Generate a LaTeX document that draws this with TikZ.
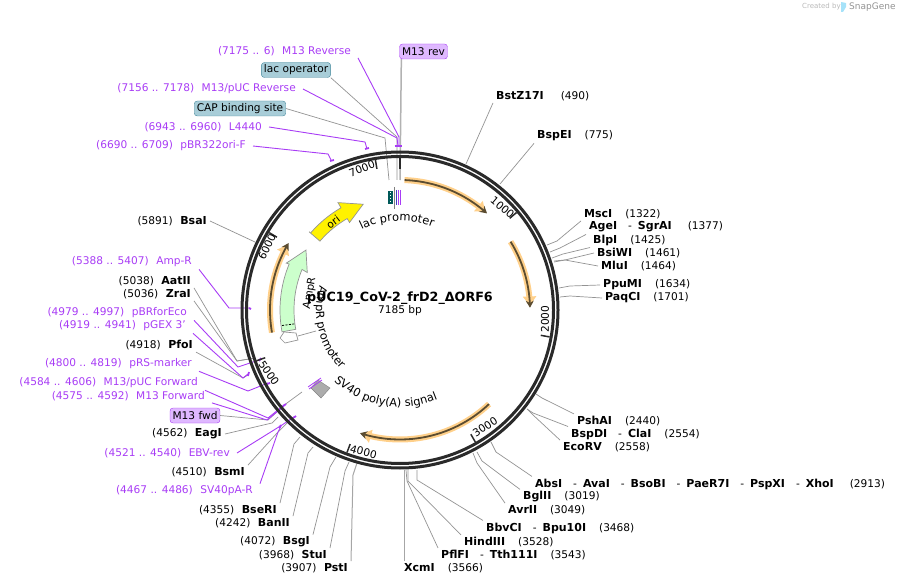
\documentclass[tikz,border=0pt]{standalone}
\usepackage{fontspec}
\setmainfont{DejaVu Sans}
\usetikzlibrary{arrows.meta,decorations.text}
\definecolor{primcol}{HTML}{A83CF5}
\definecolor{primfill}{HTML}{DFB8FF}
\definecolor{opfill}{HTML}{A8CDD8}
\definecolor{opline}{HTML}{41869A}
\definecolor{ringcol}{HTML}{2A2A2A}
\definecolor{halocol}{HTML}{FFD08A}
\definecolor{coilcol}{HTML}{5B4C30}
\newcommand{\lblfont}{\fontsize{10.6}{12}\selectfont}
\newcommand{\arcfont}{\fontsize{11.4}{13}\selectfont}
\newcommand{\bname}[1]{{\fontsize{11}{12}\selectfont\bfseries #1}}
\newcommand{\numgap}{\hspace{13pt}}
\newcommand{\leftgap}{\hspace{7.5pt}}
\newcommand{\dashsep}{\hspace{11pt}-\hspace{6pt}}
\tikzset{
	enzyme/.style={font=\lblfont,inner xsep=3pt,inner ysep=2pt},
	primer/.style={font=\lblfont,text=primcol,inner xsep=7pt,inner ysep=2pt},
	cutline/.style={draw=gray!85,line width=0.7pt},
	primline/.style={draw=primcol,line width=0.9pt},
	primtick/.style={draw=primcol,line width=1.8pt},
	primbox/.style={font=\lblfont,draw=primcol,fill=primfill,rounded corners=3pt,inner xsep=2.5pt,inner ysep=1pt,minimum height=15pt},
	opbox/.style={font=\lblfont,draw=opline,fill=opfill,rounded corners=3pt,inner xsep=2.5pt,inner ysep=1pt,minimum height=15pt},
	tickmark/.style={draw=ringcol,line width=1.5pt},
	ticklabel/.style={font=\lblfont},
	halo/.style={draw=halocol,line width=6pt,-{Triangle[length=9pt,width=13pt]}},
	coil/.style={draw=coilcol,line width=1.8pt,-{Stealth[length=7pt,width=8pt]}},
	arclabel/.style={decorate,decoration={text along path,text align=center,text={|\arcfont|#1}}},
}
\begin{document}
\begin{tikzpicture}[x=1pt,y=-1pt]
	\useasboundingbox (0,0) rectangle (899,585);
	% logo
	\node[font=\fontsize{7}{8}\selectfont,text=gray!55,inner sep=0pt,anchor=west] (createdby) at (802,7) {Created by};
	\fill[cyan!35] (841,2) -- (846,3) -- (846,7) -- (843,12) -- (841,12) -- cycle;
	\node[font=\fontsize{9}{10}\selectfont,text=gray!85,inner sep=0pt,anchor=west] (snapgene) at (849,7) {SnapGene};
	% title
	\node[font=\bfseries\fontsize{12.7}{14}\selectfont,inner sep=0pt] (title) at (400,298) {pUC19\_CoV-2\_frD2\_ΔORF6};
	\node[font=\lblfont,inner sep=0pt] (size) at (400,311) {7185 bp};
	% feature boxes
	\node[primbox] (m13rev) at (423.5,51.5) {M13 rev};
	\node[opbox] (lacop) at (296,70) {lac operator};
	\node[opbox] (cap) at (240,108.5) {CAP binding site};
	\node[primbox] (m13fwd) at (195,415.5) {M13 fwd};
	% top primers
	\node[primer,anchor=east] (p1) at (358,51) {(7175 .. 6)\leftgap M13 Reverse};
	\node[primer,anchor=east] (p2) at (303,89) {(7156 .. 7178)\leftgap M13/pUC Reverse};
	\node[primer,anchor=east] (p3) at (269,127) {(6943 .. 6960)\leftgap L4440};
	\node[primer,anchor=east] (p4) at (253,146) {(6690 .. 6709)\leftgap pBR322ori-F};
	% left primers
	\node[primer,anchor=east] (p5) at (199,262) {(5388 .. 5407)\leftgap Amp-R};
	\node[primer,anchor=east] (p6) at (194,313) {(4979 .. 4997)\leftgap pBRforEco};
	\node[primer,anchor=east] (p7) at (193,326) {(4919 .. 4941)\leftgap pGEX 3'};
	\node[primer,anchor=east] (p8) at (199,364) {(4800 .. 4819)\leftgap pRS-marker};
	\node[primer,anchor=east] (p9) at (205,383) {(4584 .. 4606)\leftgap M13/pUC Forward};
	\node[primer,anchor=east] (p10) at (212,396) {(4575 .. 4592)\leftgap M13 Forward};
	\node[primer,anchor=east] (p11) at (237,453) {(4521 .. 4540)\leftgap EBV-rev};
	\node[primer,anchor=east] (p12) at (260,491) {(4467 .. 4486)\leftgap SV40pA-R};
	% left enzymes
	\node[enzyme,anchor=east] (bsa) at (210,221) {(5891)\leftgap\bname{BsaI}};
	\node[enzyme,anchor=east] (aat) at (194,281) {(5038)\leftgap\bname{AatII}};
	\node[enzyme,anchor=east] (zra) at (194,294) {(5036)\leftgap\bname{ZraI}};
	\node[enzyme,anchor=east] (pfo) at (196,345) {(4918)\leftgap\bname{PfoI}};
	\node[enzyme,anchor=east] (eag) at (225,434) {(4562)\leftgap\bname{EagI}};
	\node[enzyme,anchor=east] (bsm) at (248,472) {(4510)\leftgap\bname{BsmI}};
	\node[enzyme,anchor=east] (bse) at (280,510) {(4355)\leftgap\bname{BseRI}};
	\node[enzyme,anchor=east] (ban) at (293,523) {(4242)\leftgap\bname{BanII}};
	\node[enzyme,anchor=east] (bsg) at (313,542) {(4072)\leftgap\bname{BsgI}};
	\node[enzyme,anchor=east] (stu) at (330,555) {(3968)\leftgap\bname{StuI}};
	\node[enzyme,anchor=east] (pst) at (351,568) {(3907)\leftgap\bname{PstI}};
	% right enzymes
	\node[enzyme,anchor=west] (bstz) at (493,96) {\bname{BstZ17I}\hspace{17pt}(490)};
	\node[enzyme,anchor=west] (bspe) at (534,136) {\bname{BspEI}\numgap(775)};
	\node[enzyme,anchor=west] (msc) at (581,214) {\bname{MscI}\numgap(1322)};
	\node[enzyme,anchor=west] (age) at (586,227) {\bname{AgeI}\dashsep\bname{SgrAI}\hspace{16pt}(1377)};
	\node[enzyme,anchor=west] (blp) at (590,240) {\bname{BlpI}\numgap(1425)};
	\node[enzyme,anchor=west] (bsi) at (594,253) {\bname{BsiWI}\numgap(1461)};
	\node[enzyme,anchor=west] (mlu) at (598,266) {\bname{MluI}\numgap(1464)};
	\node[enzyme,anchor=west] (ppu) at (600,285) {\bname{PpuMI}\numgap(1634)};
	\node[enzyme,anchor=west] (paq) at (602,298) {\bname{PaqCI}\numgap(1701)};
	\node[enzyme,anchor=west] (psh) at (574,421) {\bname{PshAI}\numgap(2440)};
	\node[enzyme,anchor=west] (bspd) at (568,434) {\bname{BspDI}\dashsep\bname{ClaI}\numgap(2554)};
	\node[enzyme,anchor=west] (eco) at (560,447) {\bname{EcoRV}\numgap(2558)};
	\node[enzyme,anchor=west] (abs) at (532,484) {\bname{AbsI}\dashsep\bname{AvaI}\dashsep\bname{BsoBI}\dashsep\bname{PaeR7I}\dashsep\bname{PspXI}\dashsep\bname{XhoI}\hspace{16pt}(2913)};
	\node[enzyme,anchor=west] (bgl) at (520,497) {\bname{BglII}\numgap(3019)};
	\node[enzyme,anchor=west] (avr) at (505,510) {\bname{AvrII}\numgap(3049)};
	\node[enzyme,anchor=west] (bbv) at (483,528) {\bname{BbvCI}\dashsep\bname{Bpu10I}\numgap(3468)};
	\node[enzyme,anchor=west] (hin) at (461,542) {\bname{HindIII}\numgap(3528)};
	\node[enzyme,anchor=west] (pfl) at (438,555) {\bname{PflFI}\dashsep\bname{Tth111I}\numgap(3543)};
	\node[enzyme,anchor=west] (xcm) at (401,568) {\bname{XcmI}\numgap(3566)};
	% leader lines, right side
	\draw[cutline] (bstz.south west) -- (466,164) coordinate (bstzTip);
	\draw[cutline] (bspe.south west) -- (500,184) coordinate (bspeTip);
	\draw[cutline] (msc.south west) -- (557,241) -- (547,245) coordinate (mscTip);
	\draw[cutline] (age.south west) -- (560,248) -- (550,252) coordinate (ageTip);
	\draw[cutline] (blp.south west) -- (563,254) -- (552,258) coordinate (blpTip);
	\draw[cutline] (bsi.west) -- (565,260) -- (554,262) coordinate (bsiTip);
	\draw[cutline] (mlu.west) -- (565,260) -- (554,261) coordinate (mluTip);
	\draw[cutline] (ppu.west) -- (570,286) -- (559,288) coordinate (ppuTip);
	\draw[cutline] (paq.west) -- (570,296) -- (560,297) coordinate (paqTip);
	\draw[cutline] (psh.north west) -- (542,398) -- (536,394) coordinate (pshTip);
	\draw[cutline] (bspd.north west) -- (533,413) -- (527,409) coordinate (bspdTip);
	\draw[cutline] (eco.north west) -- (532,414) -- (527,409) coordinate (ecoTip);
	\draw[cutline] (abs.north west) -- (496,452) -- (491,442) coordinate (absTip);
	\draw[cutline] (bgl.north west) -- (482,461) -- (477,452) coordinate (bglTip);
	\draw[cutline] (avr.north west) -- (477,463) -- (473,453) coordinate (avrTip);
	\draw[cutline] (bbv.north west) -- (417,480) -- (417,470) coordinate (bbvTip);
	\draw[cutline] (hin.north west) -- (408,481) -- (408,470) coordinate (hinTip);
	\draw[cutline] (pfl.north west) -- (407,481) -- (406,470) coordinate (pflTip);
	\draw[cutline,draw=gray!70,line width=1pt] ([xshift=3pt]xcm.north west) -- (404,470) coordinate (xcmTip);
	% leader lines, left side
	\draw[cutline] (bsa.east) -- (255,242) coordinate (bsaTip);
	\draw[cutline] (aat.south east) -- (237,361) -- (255,358) coordinate (aatTip);
	\draw[cutline] (zra.south east) -- (237,361) -- (255,358) coordinate (zraTip);
	\draw[cutline] (pfo.south east) -- (243,378) -- (248,375) coordinate (pfoTip);
	\draw[cutline] (m13fwd.east) -- (268,420) -- (287,403) coordinate (fwdTip);
	\draw[cutline] (eag.east) -- (272,423) -- (278,417) coordinate (eagTip);
	\draw[cutline] (bsm.north east) -- (278,432) -- (287,423) coordinate (bsmTip);
	\draw[cutline] (bse.north east) -- (294,444) -- (300,437) coordinate (bseTip);
	\draw[cutline] (ban.north east) -- (308,453) -- (313,447) coordinate (banTip);
	\draw[cutline] (bsg.north east) -- (330,467) -- (336,457) coordinate (bsgTip);
	\draw[cutline] (stu.north east) -- (345,471) -- (349,462) coordinate (stuTip);
	\draw[cutline,draw=gray!70,line width=1pt] (pst.north east) -- (353,475) -- (357,463) coordinate (pstTip);
	\draw[cutline] (fwdTip) -- (302,392) coordinate (fwdEnd);
	\draw[cutline] (lacop.south east) -- (397,137) -- (397,180) coordinate (lacopTip);
	\draw[cutline] (cap.east) -- (385,138) -- (389,180) coordinate (capTip);
	\draw[draw=gray!60,line width=1.5pt] ([xshift=2pt]m13rev.south west) -- (400,180) coordinate (revTip);
	% primer lines
	\draw[primline] (p1.south east) -- (399,137) -- (399,146) coordinate (p1Tip);
	\draw[primline] (p2.east) -- (397,138) -- (398,146) coordinate (p2Tip);
	\draw[primline] (p3.east) -- (365,142) -- (367,149) coordinate (p3Tip);
	\draw[primline] (p4.east) -- (328,154) -- (331,160) coordinate (p4Tip);
	\draw[primline] (p5.south east) -- (229,308) -- (249,308) coordinate (p5Tip);
	\draw[primline] (p6.south east) -- (238,367) -- (259,360) coordinate (p6Tip);
	\draw[primline] (p7.south east) -- (243,378) -- (248,374) coordinate (p7Tip);
	\draw[primline] (p8.south east) -- (248,391) -- (268,383) coordinate (p8Tip);
	\draw[primline] (p9.south east) -- (268,418) -- (284,405) coordinate (p9Tip);
	\draw[primline] (p10.south east) -- (267,420) -- (284,406) coordinate (p10Tip);
	\draw[primline] (p11.east) -- (282,425) -- (294,417) coordinate (p11Tip);
	\draw[primline] (p12.north east) -- (278,432) -- (281,426) coordinate (p12Tip);
	\draw[primtick] (394.5,146) -- (402,146);
	\draw[primtick] (365,149) -- (369,148);
	\draw[primtick] (330,161) -- (334,160);
	\draw[primtick] (249,308) -- (251,309);
	\draw[primtick] (259,361) -- (261,358);
	\draw[primtick] (248,376) -- (249,372);
	\draw[primtick] (267,384) -- (270,383);
	\draw[primtick] (283,406) -- (286,404);
	\draw[primtick] (293,418) -- (296,416);
	\draw[primtick] (279,428) -- (281,425);
	% small features at the top and at SV40
	\fill[teal!70!black] (388,191) rectangle (393,204);
	\draw[white,dotted,line width=1pt] (390.5,192) -- (390.5,203);
	\draw[gray,line width=0.8pt] (394,187) -- (394,209);
	\draw[blue!50!gray,line width=0.8pt] (396,190) -- (396,205);
	\draw[primcol,line width=1pt] (398,190) -- (398,205);
	\draw[primcol,line width=1pt] (400,190) -- (400,205);
	\filldraw[fill=gray!65,draw=gray] (318,380) -- (330,388) -- (321,398) -- (311,388) -- cycle;
	\draw[primcol,line width=0.8pt] (308,387) -- (321,378);
	\draw[primcol,line width=0.8pt] (309,389) -- (322,380);
	\draw[cutline,fill=white] (280,338) -- (285,343) -- (298,340) -- (296,333) -- (284,332) -- cycle;
	\draw[cutline] (298,336) -- (316,331);
	\begin{scope}[shift={(400,310)}]
		% ring
		\draw[draw=ringcol,line width=3pt] (0,0) circle[radius=158pt];
		\draw[draw=ringcol,line width=3pt] (0,0) circle[radius=153.5pt];
		\draw[tickmark] (-39.9:152) -- (-39.9:143);
		\draw[tickmark] (10.2:152) -- (10.2:143);
		\draw[tickmark] (60.3:152) -- (60.3:143);
		\draw[tickmark] (110.4:152) -- (110.4:143);
		\draw[tickmark] (160.5:152) -- (160.5:143);
		\draw[tickmark] (210.6:152) -- (210.6:143);
		\draw[tickmark] (260.7:152) -- (260.7:143);
		\draw[tickmark,line width=2pt] (-90:152) -- (-90:141);
		% orange coils
		\draw[halo] plot[domain=-88:-49,samples=30] (\x:130);
		\draw[coil] plot[domain=-88:-48,samples=30] (\x:130);
		\draw[halo] plot[domain=-31.7:-2,samples=30] (\x:130);
		\draw[coil] plot[domain=-31.7:-1,samples=30] (\x:130);
		\draw[halo] plot[domain=46.6:107,samples=30] (\x:129.5);
		\draw[coil] plot[domain=46.6:108,samples=30] (\x:129.5);
		\draw[halo] plot[domain=170:210,samples=30] (\x:130);
		\draw[coil] plot[domain=170:211,samples=30] (\x:130);
		% AmpR
		\filldraw[fill=green!20!white,draw=gray!85,line width=0.7pt] (169.5:120) -- plot[domain=169.5:202.5,samples=20] (\x:120) -- (202.4:123) -- (212.5:111.5) -- (202:100) -- (202.5:106) -- plot[domain=202.5:169.5,samples=20] (\x:106) -- cycle;
		\draw[dashed,line width=0.8pt,dash pattern=on 2pt off 1.5pt] (172.5:119) -- (172.5:106);
		% ori
		\filldraw[fill=yellow,draw=gray!85,line width=0.7pt] (220.7:120) -- plot[domain=220.7:240,samples=20] (\x:118) -- (240:124) -- (250.8:112) -- (240:101) -- (240:105) -- plot[domain=240:220.7,samples=20] (\x:105.6) -- cycle;
		% text on the arcs
		\path[arclabel={lac promoter}] plot[domain=243:293,samples=40] (\x:89);
		\path[arclabel={AmpR promoter}] plot[domain=198:134,samples=40] (\x:84);
		\path[arclabel={SV40 poly(A) signal}] plot[domain=138:62,samples=40] (\x:97);
	\end{scope}
	\node[ticklabel,rotate=-40] (t1000) at (502.5,207.5) {1000};
	\node[ticklabel,rotate=90] (t2000) at (545,319) {2000};
	\node[ticklabel,rotate=33] (t3000) at (485,427) {3000};
	\node[ticklabel,rotate=-15] (t4000) at (363.5,452) {4000};
	\node[ticklabel,rotate=-55] (t5000) at (269,373) {5000};
	\node[ticklabel,rotate=64] (t6000) at (267,247) {6000};
	\node[ticklabel,rotate=22] (t7000) at (362,168.5) {7000};
	\node[font=\lblfont,rotate=37] (orilbl) at (333,222) {ori};
	\node[font=\lblfont,rotate=80] (amplbl) at (310,293) {AmpR};
\end{tikzpicture}
\end{document}
